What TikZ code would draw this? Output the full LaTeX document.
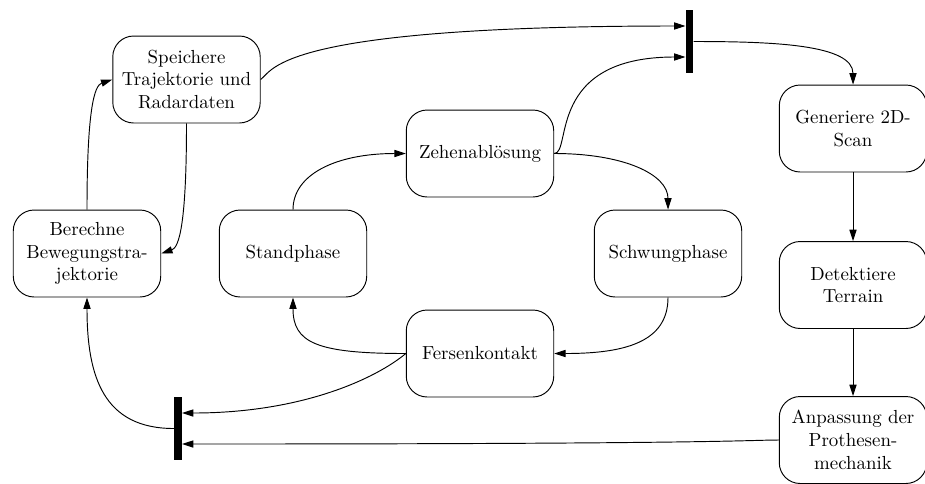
\documentclass[tikz,border=0pt]{standalone}
\usetikzlibrary{arrows.meta,calc}

\tikzset{
  phase/.style={draw,rounded corners=11pt,minimum width=78pt,minimum height=46pt,
    align=center,inner sep=2pt},
  bar/.style={fill=black,inner sep=0pt,minimum width=3.8pt,minimum height=33pt},
}

\begin{document}
\begin{tikzpicture}[x=0.529pt,y=0.529pt,line width=0.5pt,>={Triangle[length=6pt,width=3.8pt]}]
  \useasboundingbox (0,0) rectangle (925,-483);
  % Trajectory
  \node[phase] (speichern) at (186.5,-79.5) {Speichere\\Trajektorie und\\Radardaten};
  \node[phase] (berechnen) at (87,-253.5) {Berechne\\Bewegungstra-\\jektorie};
  % Gait cycle
  \node[phase] (stand) at (293,-253.5) {Standphase};
  \node[phase] (zehe) at (480,-153.5) {Zehenablösung};
  \node[phase] (schwung) at (668,-253.5) {Schwungphase};
  \node[phase] (ferse) at (480,-353.5) {Fersenkontakt};
  % Terrain
  \node[phase] (scan) at (853,-128.5) {Generiere 2D-\\Scan};
  \node[phase] (terrain) at (853,-285) {Detektiere\\Terrain};
  \node[phase] (anpassung) at (853,-440) {Anpassung der\\Prothesen-\\mechanik};
  % Sync bars
  \node[bar] (sync1) at (689.5,-41.5) {};
  \node[bar] (sync2) at (178,-428.5) {};

  % Gait cycle edges
  \draw[->] (stand.north) .. controls +(0,35) and +(-70,0) .. (zehe.west);
  \draw[->] (zehe.east) .. controls +(70,0) and +(0,35) .. (schwung.north);
  \draw[->] (schwung.south) .. controls +(0,-45) and +(70,0) .. (ferse.east);
  \draw[->] (ferse.west) .. controls +(-90,0) and +(0,-45) .. (stand.south);
  % Into the bars
  \draw[->] (speichern.east) .. controls +(13,10) and +(-406,0) .. ($(sync1.west)+(0,15.5)$);
  \draw[->] (zehe.east) .. controls +(18,0) and +(-140,0) .. ($(sync1.west)+(0,-15.5)$);
  \draw[->] (ferse.west) .. controls +(-30,-25) and +(120,0) .. ($(sync2.east)+(0,15.5)$);
  \draw[->] (anpassung.west) .. controls +(-30,0) and +(540,0) .. ($(sync2.east)+(0,-15.5)$);
  % Out of the bars
  \draw[->] (sync1.east) .. controls +(80,0) and +(0,40) .. (scan.north);
  \draw[->] (sync2.west) .. controls +(-70,0) and +(0,-80) .. (berechnen.south);
  % Terrain chain
  \draw[->] (scan.south) -- (terrain.north);
  \draw[->] (terrain.south) -- (anpassung.north);
  % Trajectory loop
  \draw[->] (berechnen.north) .. controls +(0,100) and +(-18,-6) .. (speichern.west);
  \draw[->] (speichern.south) .. controls +(0,-100) and +(18,6) .. (berechnen.east);
\end{tikzpicture}
\end{document}
